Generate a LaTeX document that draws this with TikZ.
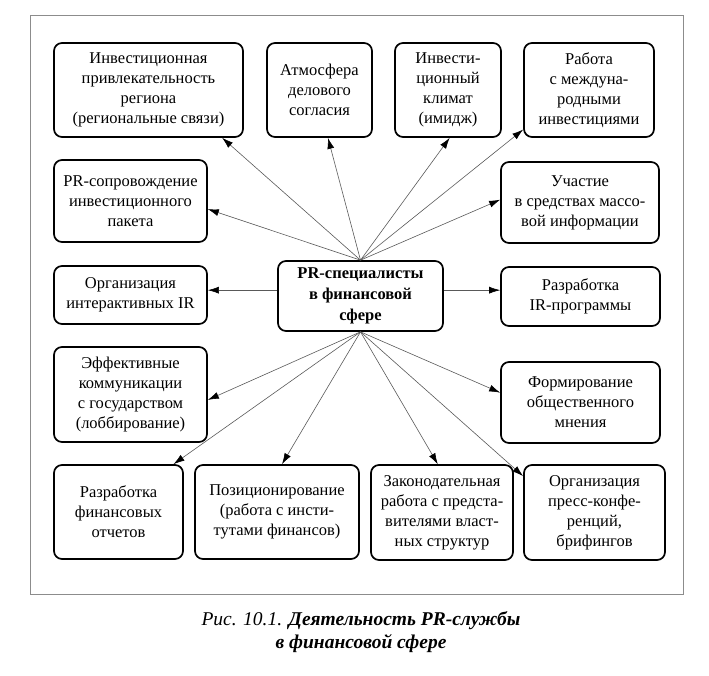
\documentclass[tikz,border=0pt]{standalone}
\usepackage{fontspec}
\setmainfont{Liberation Serif}
\usetikzlibrary{arrows.meta}
\tikzset{
  box/.style={draw=black, line width=1.7pt, rounded corners=8pt, align=center,
    inner sep=2pt, font=\fontsize{16.5}{20}\selectfont},
  conn/.style={draw=black!65, line width=0.6pt, -{Latex[length=11pt,width=7pt,black]}},
  frame/.style={draw=black!45, line width=0.8pt}
}
\begin{document}
\begin{tikzpicture}[x=1pt,y=-1pt]
\useasboundingbox (0,0) rectangle (709,676);
\draw[frame] (30,15) rectangle (683,594);

\node[box, minimum width=189pt, minimum height=94pt] (b1) at (148.5,90)
  {Инвестиционная\\привлекательность\\региона\\(региональные связи)};
\node[box, minimum width=105pt, minimum height=94pt] (b2) at (319.5,90)
  {Атмосфера\\делового\\согласия};
\node[box, minimum width=106pt, minimum height=94pt] (b3) at (448,90)
  {Инвести-\\ционный\\климат\\(имидж)};
\node[box, minimum width=130pt, minimum height=94pt] (b4) at (589,90)
  {Работа\\с междуна-\\родными\\инвестициями};
\node[box, minimum width=153pt, minimum height=82pt] (b5) at (130.5,201)
  {PR-сопровождение\\инвестиционного\\пакета};
\node[box, minimum width=158pt, minimum height=81pt] (b6) at (580,202.5)
  {Участие\\в средствах массо-\\вой информации};
\node[box, minimum width=165pt, minimum height=70pt, font=\fontsize{16.5}{21}\selectfont\bfseries] (c) at (360.5,296)
  {PR-специалисты\\в финансовой\\сфере};
\node[box, minimum width=153pt, minimum height=58pt] (b8) at (130.5,295)
  {Организация\\интерактивных IR};
\node[box, minimum width=159pt, minimum height=59pt] (b9) at (580.5,296.5)
  {Разработка\\IR-программы};
\node[box, minimum width=153pt, minimum height=95pt] (b10) at (130.5,394.5)
  {Эффективные\\коммуникации\\с государством\\(лоббирование)};
\node[box, minimum width=159pt, minimum height=81pt] (b11) at (580.5,402.5)
  {Формирование\\общественного\\мнения};
\node[box, minimum width=129pt, minimum height=94pt] (b12) at (118.5,512)
  {Разработка\\финансовых\\отчетов};
\node[box, minimum width=164pt, minimum height=94pt] (b13) at (277,512)
  {Позиционирование\\(работа с инсти-\\тутами финансов)};
\node[box, minimum width=142pt, minimum height=95pt] (b14) at (442,512.5)
  {Законодательная\\работа с предста-\\вителями власт-\\ных структур};
\node[box, minimum width=141pt, minimum height=95pt] (b15) at (594.5,512.5)
  {Организация\\пресс-конфе-\\ренций,\\брифингов};

\draw[conn] (c.north) -- (b1.-33);
\draw[conn] (c.north) -- (b2.-80);
\draw[conn] (c.north) -- (b3.-88);
\draw[conn] (c.north) -- (b4.211);
\draw[conn] (c.north) -- (b5.-6.5);
\draw[conn] (c.north) -- (b6.178);
\draw[conn] (c.176) -- (c.176 -| b8.east);
\draw[conn] (c.4) -- (c.4 -| b9.west);
\draw[conn] (c.south) -- (b10.-4);
\draw[conn] (c.south) -- (b11.173.5);
\draw[conn] (c.south) -- (b12.41);
\draw[conn] (c.south) -- (b13.84);
\draw[conn] (c.south) -- (b14.95);
\draw[conn] (c.south) -- (b15.153);

\node[font=\fontsize{19.5}{22.5}\selectfont, align=center] (cap) at (361,632)
  {\textit{Рис. 10.1.} \textbf{\textit{Деятельность PR-службы}}\\\textbf{\textit{в финансовой сфере}}};
\end{tikzpicture}
\end{document}
